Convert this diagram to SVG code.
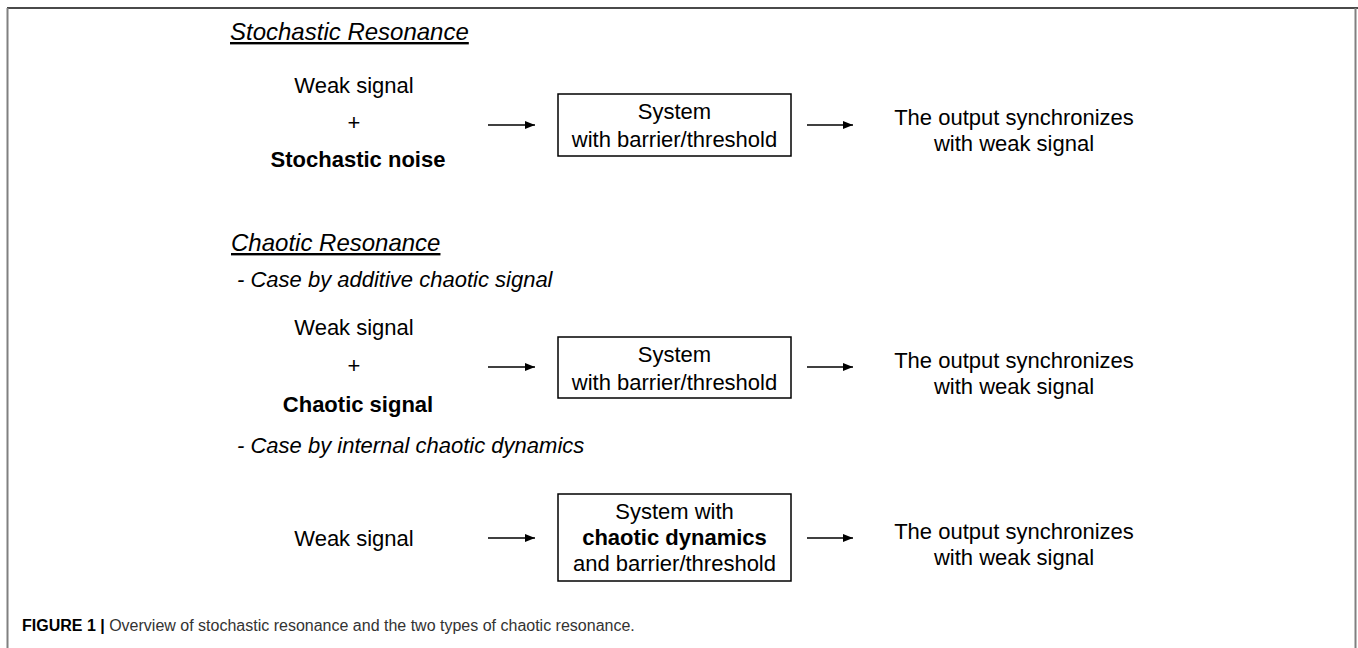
<svg xmlns="http://www.w3.org/2000/svg" width="1358" height="648" viewBox="0 0 1358 648">
  <style>
    text { font-family: "Liberation Sans", Arial, sans-serif; fill: #000; }
    .t { font-size: 22px; }
    .h { font-size: 24px; font-style: italic; text-decoration: underline; }
    .c { text-anchor: middle; }
    .b { font-weight: bold; }
    .i { font-style: italic; }
    .box { fill: #fff; stroke: #000; stroke-width: 1.5; }
    .conn { stroke: #000; stroke-width: 1.5; fill: none; }
    .cap { font-size: 16px; fill: #333; }
  </style>
  <defs>
    <marker id="arr" viewBox="0 0 10 8" refX="10" refY="4" markerWidth="10" markerHeight="8" markerUnits="userSpaceOnUse" orient="auto">
      <path d="M0,0 L10,4 L0,8 Z" fill="#000"/>
    </marker>
  </defs>
  <rect width="1358" height="648" fill="#fff"/>
  <g id="frame">
    <line x1="7" y1="8" x2="1358" y2="8" stroke="#4a4a4a" stroke-width="2"/>
    <line x1="7.5" y1="8" x2="7.5" y2="648" stroke="#808080" stroke-width="2"/>
    <line x1="1355.5" y1="8" x2="1355.5" y2="648" stroke="#808080" stroke-width="2"/>
  </g>

  <g id="heading-stochastic">
    <text class="h" x="230" y="40">Stochastic Resonance</text>
  </g>
  <g id="input-stochastic">
    <text class="t c" x="354" y="93">Weak signal</text>
    <text class="t c" x="354" y="130">+</text>
    <text class="t c b" x="358" y="167">Stochastic noise</text>
  </g>
  <g id="system-1">
    <rect class="box" x="558" y="94" width="233" height="62"/>
    <text class="t c" x="674.5" y="119">System</text>
    <text class="t c" x="674.5" y="147">with barrier/threshold</text>
  </g>
  <g id="output-1">
    <text class="t c" x="1014" y="125">The output synchronizes</text>
    <text class="t c" x="1014" y="151">with weak signal</text>
  </g>

  <g id="heading-chaotic">
    <text class="h" x="231" y="251">Chaotic Resonance</text>
    <text class="t i" x="237" y="287">- Case by additive chaotic signal</text>
  </g>
  <g id="input-chaotic">
    <text class="t c" x="354" y="335">Weak signal</text>
    <text class="t c" x="354" y="373">+</text>
    <text class="t c b" x="358" y="412">Chaotic signal</text>
  </g>
  <g id="system-2">
    <rect class="box" x="558" y="337" width="233" height="61"/>
    <text class="t c" x="674.5" y="362">System</text>
    <text class="t c" x="674.5" y="390">with barrier/threshold</text>
  </g>
  <g id="output-2">
    <text class="t c" x="1014" y="368">The output synchronizes</text>
    <text class="t c" x="1014" y="394">with weak signal</text>
  </g>

  <g id="heading-internal">
    <text class="t i" x="237" y="453">- Case by internal chaotic dynamics</text>
  </g>
  <g id="input-internal">
    <text class="t c" x="354" y="546">Weak signal</text>
  </g>
  <g id="system-3">
    <rect class="box" x="558" y="494" width="233" height="87"/>
    <text class="t c" x="674.5" y="519">System with</text>
    <text class="t c b" x="674.5" y="545">chaotic dynamics</text>
    <text class="t c" x="674.5" y="571">and barrier/threshold</text>
  </g>
  <g id="output-3">
    <text class="t c" x="1014" y="539">The output synchronizes</text>
    <text class="t c" x="1014" y="565">with weak signal</text>
  </g>

  <g id="connectors">
    <line class="conn" x1="488" y1="125" x2="535" y2="125" marker-end="url(#arr)"/>
    <line class="conn" x1="807" y1="125" x2="853" y2="125" marker-end="url(#arr)"/>
    <line class="conn" x1="488" y1="367" x2="535" y2="367" marker-end="url(#arr)"/>
    <line class="conn" x1="807" y1="367" x2="853" y2="367" marker-end="url(#arr)"/>
    <line class="conn" x1="488" y1="538" x2="535" y2="538" marker-end="url(#arr)"/>
    <line class="conn" x1="807" y1="538" x2="853" y2="538" marker-end="url(#arr)"/>
  </g>

  <g id="caption">
    <text class="cap" x="22" y="631"><tspan font-weight="bold" fill="#000">FIGURE 1 |</tspan> Overview of stochastic resonance and the two types of chaotic resonance.</text>
  </g>
</svg>
